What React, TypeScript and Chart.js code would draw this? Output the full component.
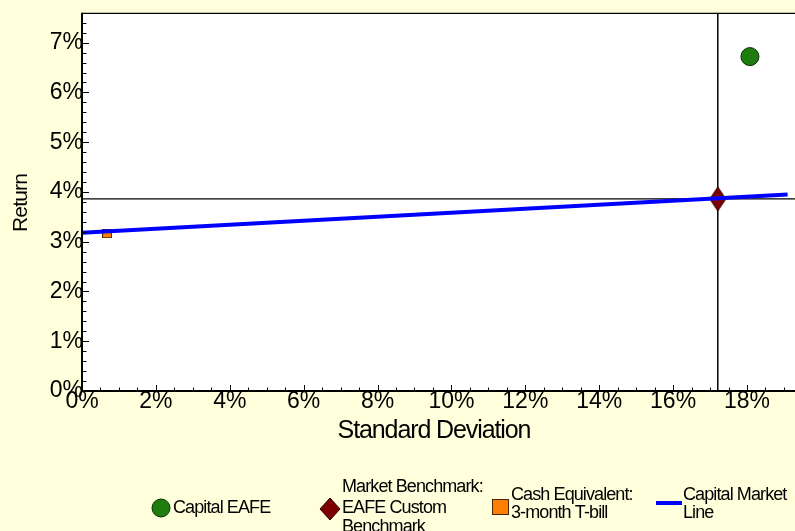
import React, { useEffect, useRef } from 'react';
import { Chart, registerables } from 'chart.js';

Chart.register(...registerables);

// ---- data ----
const xTickValues = [0, 2, 4, 6, 8, 10, 12, 14, 16, 18];
const yTickValues = [0, 1, 2, 3, 4, 5, 6, 7];
const xMinorStep = 0.5;
const yMinorStep = 0.2;
const xMax = 19.3;
const yMax = 7.6;

const portfolioRisk = [18.08];
const portfolioReturn = [6.72];
const benchmarkRisk = [17.21];
const benchmarkReturn = [3.86];
const cashRisk = [0.68];
const cashReturn = [3.16];
const cmlRisk = [0, 19.1];
const cmlReturn = [3.18, 3.95];

const xTitle = 'Standard Deviation';
const yTitle = 'Return';
const legendPortfolio = ['Capital EAFE'];
const legendBenchmark = ['Market Benchmark:', 'EAFE Custom', 'Benchmark'];
const legendCash = ['Cash Equivalent:', '3-month T-bill'];
const legendCml = ['Capital Market', 'Line'];

// ---- styles ----
const BG = '#FFFFDC';
const GREEN = '#1E7D0E';
const DARKRED = '#7D0000';
const ORANGE = '#FF8000';
const BLUE = '#0000FF';
const FONT = "'Liberation Sans', Arial, sans-serif";

function setLS(ctx: any, v: string) {
  if ('letterSpacing' in ctx) ctx.letterSpacing = v;
}

function makeDiamond(w: number, h: number, fill: string, stroke: string) {
  const c = document.createElement('canvas');
  c.width = w + 2;
  c.height = h + 2;
  const g = c.getContext('2d')!;
  g.beginPath();
  g.moveTo(c.width / 2, 1);
  g.lineTo(c.width - 1, c.height / 2);
  g.lineTo(c.width / 2, c.height - 1);
  g.lineTo(1, c.height / 2);
  g.closePath();
  g.fillStyle = fill;
  g.fill();
  g.strokeStyle = stroke;
  g.lineWidth = 1;
  g.stroke();
  return c;
}

function makeRect(w: number, h: number, fill: string, stroke: string) {
  const c = document.createElement('canvas');
  c.width = w + 1;
  c.height = h + 1;
  const g = c.getContext('2d')!;
  g.fillStyle = fill;
  g.fillRect(0.5, 0.5, w, h);
  g.strokeStyle = stroke;
  g.lineWidth = 1;
  g.strokeRect(0.5, 0.5, w, h);
  return c;
}

const decorPlugin = {
  id: 'decor',
  beforeDraw(chart: any) {
    const { ctx, chartArea: a, width, height } = chart;
    ctx.save();
    ctx.fillStyle = BG;
    ctx.fillRect(0, 0, width, height);
    ctx.fillStyle = '#FFFFFF';
    ctx.fillRect(a.left, a.top, a.right - a.left, a.bottom - a.top);
    ctx.restore();
  },
  afterDraw(chart: any) {
    const { ctx, chartArea: a } = chart;
    const xs = chart.scales.x;
    const ys = chart.scales.y;
    ctx.save();
    ctx.strokeStyle = '#000';
    // frame
    ctx.lineWidth = 1.3;
    ctx.beginPath();
    ctx.moveTo(a.left, a.top + 0.5);
    ctx.lineTo(a.right, a.top + 0.5);
    ctx.stroke();
    ctx.lineWidth = 2;
    ctx.beginPath();
    ctx.moveTo(a.left, a.top);
    ctx.lineTo(a.left, a.bottom);
    ctx.lineTo(a.right, a.bottom);
    ctx.stroke();
    // ticks (inward)
    ctx.lineWidth = 1;
    ctx.beginPath();
    for (let i = 0; i * xMinorStep <= xMax + 1e-9; i++) {
      const v = i * xMinorStep;
      const px = Math.round(xs.getPixelForValue(v)) + 0.5;
      const major = i % 4 === 0;
      const len = major ? 6 : 3.5;
      ctx.moveTo(px, a.bottom);
      ctx.lineTo(px, a.bottom - len);
    }
    for (let i = 0; i * yMinorStep <= yMax + 1e-9; i++) {
      const v = i * yMinorStep;
      const py = Math.round(ys.getPixelForValue(v)) + 0.5;
      const major = i % 5 === 0;
      const len = major ? 7 : 4.5;
      ctx.moveTo(a.left, py);
      ctx.lineTo(a.left + len, py);
    }
    ctx.stroke();

    // axis titles
    ctx.fillStyle = '#000';
    ctx.font = `25px ${FONT}`;
    setLS(ctx, '-1.1px');
    ctx.textAlign = 'center';
    ctx.textBaseline = 'alphabetic';
    ctx.fillText(xTitle, 434, 438);

    ctx.save();
    ctx.font = `21px ${FONT}`;
    setLS(ctx, '-0.8px');
    ctx.translate(27, 203);
    ctx.rotate(-Math.PI / 2);
    ctx.fillText(yTitle, 0, 0);
    ctx.restore();

    // legend
    ctx.font = `18px ${FONT}`;
    setLS(ctx, '-0.9px');
    ctx.textAlign = 'left';
    ctx.lineWidth = 1;
    // circle
    ctx.beginPath();
    ctx.arc(161, 508, 9, 0, Math.PI * 2);
    ctx.fillStyle = GREEN;
    ctx.fill();
    ctx.strokeStyle = '#0B3005';
    ctx.stroke();
    ctx.fillStyle = '#000';
    ctx.fillText(legendPortfolio[0], 173, 513);
    // diamond
    ctx.beginPath();
    ctx.moveTo(330, 498);
    ctx.lineTo(340, 509);
    ctx.lineTo(330, 520);
    ctx.lineTo(320, 509);
    ctx.closePath();
    ctx.fillStyle = DARKRED;
    ctx.fill();
    ctx.strokeStyle = '#300000';
    ctx.stroke();
    ctx.fillStyle = '#000';
    [492, 512.5, 532].forEach((y, i) => ctx.fillText(legendBenchmark[i], 342, y));
    // square
    ctx.fillStyle = ORANGE;
    ctx.fillRect(492.5, 499.5, 16, 15);
    ctx.strokeStyle = '#4A2500';
    ctx.strokeRect(492.5, 499.5, 16, 15);
    ctx.fillStyle = '#000';
    [500, 518].forEach((y, i) => ctx.fillText(legendCash[i], 511, y));
    // line
    ctx.strokeStyle = BLUE;
    ctx.lineWidth = 4;
    ctx.beginPath();
    ctx.moveTo(656, 503);
    ctx.lineTo(682, 503);
    ctx.stroke();
    ctx.fillStyle = '#000';
    [500, 518].forEach((y, i) => ctx.fillText(legendCml[i], 683, y));
    ctx.restore();
  },
};

export default function App() {
  const ref = useRef<HTMLCanvasElement>(null);

  useEffect(() => {
    const canvas = ref.current;
    if (!canvas) return;
    const diamond = makeDiamond(16, 24, DARKRED, '#300000');
    const square = makeRect(9, 8, ORANGE, '#4A2500');

    const chart = new Chart(canvas, {
      type: 'scatter',
      data: {
        datasets: [
          {
            label: 'Capital Market Line',
            data: cmlRisk.map((x, i) => ({ x, y: cmlReturn[i] })),
            showLine: true,
            borderColor: BLUE,
            borderWidth: 4,
            pointRadius: 0,
            order: 0,
          },
          {
            label: 'Capital EAFE',
            data: portfolioRisk.map((x, i) => ({ x, y: portfolioReturn[i] })),
            pointStyle: 'circle',
            pointRadius: 9,
            backgroundColor: GREEN,
            borderColor: '#0B3005',
            borderWidth: 1,
            order: 1,
          },
          {
            label: 'Market Benchmark',
            data: benchmarkRisk.map((x, i) => ({ x, y: benchmarkReturn[i] })),
            pointStyle: diamond as any,
            pointRadius: 10,
            order: 2,
          },
          {
            label: 'Cash Equivalent',
            data: cashRisk.map((x, i) => ({ x, y: cashReturn[i] })),
            pointStyle: square as any,
            pointRadius: 5,
            order: 3,
          },
          {
            label: 'ref-h',
            data: [
              { x: 0, y: benchmarkReturn[0] },
              { x: xMax, y: benchmarkReturn[0] },
            ],
            showLine: true,
            borderColor: '#000',
            borderWidth: 1.3,
            pointRadius: 0,
            order: 5,
          },
          {
            label: 'ref-v',
            data: [
              { x: benchmarkRisk[0], y: 0 },
              { x: benchmarkRisk[0], y: yMax },
            ],
            showLine: true,
            borderColor: '#000',
            borderWidth: 1.5,
            pointRadius: 0,
            order: 6,
          },
        ],
      },
      options: {
        responsive: false,
        animation: false,
        devicePixelRatio: 1,
        layout: { autoPadding: false, padding: { top: 12, left: 0, right: 0, bottom: 0 } },
        plugins: {
          legend: { display: false },
          tooltip: { enabled: false },
          title: { display: false },
        },
        scales: {
          x: {
            type: 'linear',
            min: 0,
            max: xMax,
            grid: { display: false, drawTicks: false },
            border: { display: false },
            afterFit: (s: any) => {
              s.height = 140;
            },
            afterBuildTicks: (s: any) => {
              s.ticks = xTickValues.map((v) => ({ value: v }));
            },
            ticks: {
              autoSkip: false,
              maxRotation: 0,
              padding: -3,
              color: '#000',
              font: { family: FONT, size: 23 },
              callback: (v: any) => `${v}%`,
            },
          },
          y: {
            type: 'linear',
            min: 0,
            max: yMax,
            grid: { display: false, drawTicks: false },
            border: { display: false },
            afterFit: (s: any) => {
              s.width = 82;
            },
            afterBuildTicks: (s: any) => {
              s.ticks = yTickValues.map((v) => ({ value: v }));
            },
            ticks: {
              autoSkip: false,
              padding: -1,
              color: '#000',
              font: { family: FONT, size: 23 },
              callback: (v: any) => `${v}%`,
            },
          },
        },
      },
      plugins: [decorPlugin],
    } as any);

    return () => chart.destroy();
  }, []);

  return (
    <div
      style={{
        position: 'absolute',
        left: 0,
        top: 0,
        width: 795,
        height: 531,
        background: BG,
        overflow: 'hidden',
      }}
    >
      <canvas ref={ref} width={795} height={531} style={{ display: 'block' }} />
    </div>
  );
}
